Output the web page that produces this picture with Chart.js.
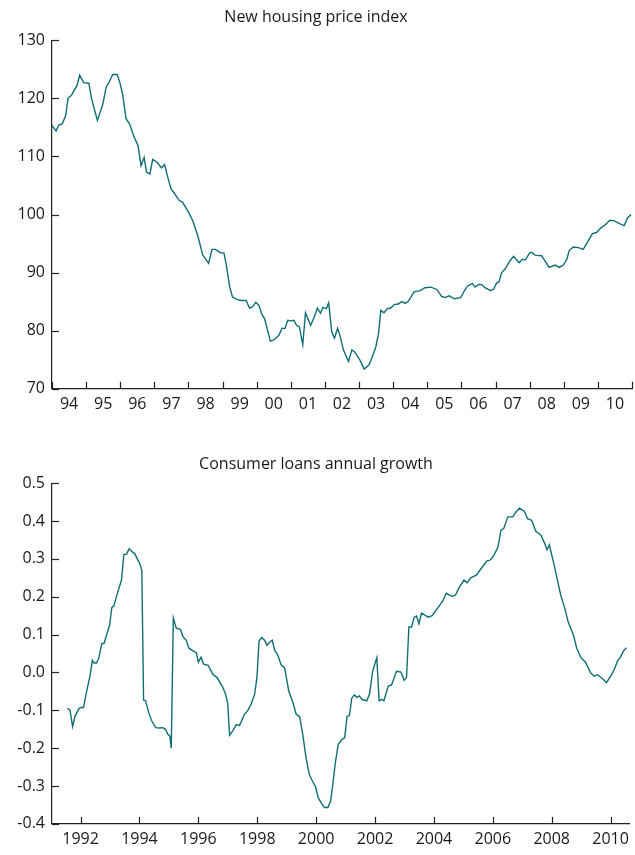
<!DOCTYPE html>
<html><head><meta charset="utf-8">
<script src="https://cdn.jsdelivr.net/npm/chart.js@4.4.0/dist/chart.umd.min.js"></script>
<style>body{margin:0;background:#fff}#a{position:absolute;left:0;top:0}#b{position:absolute;left:0;top:448px}</style>
</head><body>
<div id="a" style="width:635px;height:420px"><canvas id="c1"></canvas></div>
<div id="b" style="width:635px;height:407px"><canvas id="c2"></canvas></div>
<script>
const housingX=[1994.0,1994.12,1994.2,1994.3,1994.4,1994.47,1994.57,1994.74,1994.81,1994.93,1995.08,1995.16,1995.33,1995.49,1995.59,1995.66,1995.78,1995.91,1995.99,1996.07,1996.17,1996.27,1996.41,1996.52,1996.61,1996.7,1996.77,1996.87,1996.95,1997.08,1997.21,1997.3,1997.38,1997.49,1997.58,1997.73,1997.83,1998.0,1998.12,1998.27,1998.42,1998.59,1998.69,1998.79,1998.94,1999.04,1999.11,1999.21,1999.29,1999.42,1999.53,1999.69,1999.79,1999.88,1999.97,2000.06,2000.16,2000.23,2000.4,2000.5,2000.65,2000.74,2000.83,2000.91,2000.99,2001.09,2001.17,2001.25,2001.35,2001.43,2001.58,2001.69,2001.78,2001.87,2001.94,2002.04,2002.11,2002.2,2002.28,2002.37,2002.44,2002.54,2002.69,2002.79,2002.88,2003.03,2003.15,2003.29,2003.37,2003.49,2003.57,2003.64,2003.73,2003.83,2003.93,2004.03,2004.15,2004.25,2004.35,2004.45,2004.61,2004.79,2004.93,2005.11,2005.28,2005.42,2005.52,2005.64,2005.79,2005.98,2006.1,2006.18,2006.32,2006.4,2006.52,2006.6,2006.69,2006.86,2006.95,2007.03,2007.1,2007.18,2007.28,2007.42,2007.53,2007.69,2007.79,2007.88,2008.0,2008.05,2008.16,2008.35,2008.43,2008.57,2008.75,2008.87,2008.99,2009.09,2009.16,2009.28,2009.43,2009.57,2009.67,2009.84,2009.96,2010.09,2010.21,2010.35,2010.48,2010.65,2010.77,2010.87,2010.97];
const housingY=[115.3,114.4,115.4,115.6,117,120,120.5,122.3,124,122.7,122.6,119.9,116.2,119,122,122.6,124.1,124.1,122.7,120.7,116.5,115.6,113.3,111.9,108.4,109.8,107.3,107,109.5,109,108,108.6,106.7,104.4,103.7,102.4,102.1,100.4,99,96.4,93,91.6,94,94,93.4,93.4,91.3,87.5,85.8,85.4,85.2,85.2,83.9,84.1,84.9,84.4,82.7,82.1,78.2,78.4,79.2,80.4,80.4,81.8,81.7,81.8,80.9,80.7,77.6,83.1,80.9,82.4,83.9,83,84,83.8,84.8,79.8,78.7,80.4,79.2,76.7,74.7,76.7,76.3,74.9,73.4,74.1,75.2,77.2,79.5,83.5,83.1,83.8,83.9,84.5,84.6,85,84.7,85.1,86.7,86.9,87.4,87.5,87.1,85.9,85.7,86,85.5,85.7,87,87.7,88.1,87.5,88,87.9,87.4,86.9,87.2,88.2,88.4,90,90.6,92,92.8,91.7,92.3,92.2,93.4,93.5,93,92.9,92.2,90.9,91.3,90.9,91.3,92.3,93.8,94.4,94.3,94,95,96.7,96.9,97.7,98.2,99,98.9,98.4,98.1,99.4,100];
const loansX=[1991.55,1991.64,1991.73,1991.81,1991.95,1992.05,1992.1,1992.2,1992.32,1992.4,1992.46,1992.54,1992.62,1992.72,1992.8,1992.88,1992.99,1993.06,1993.13,1993.25,1993.39,1993.47,1993.56,1993.65,1993.73,1993.84,1993.95,1994.01,1994.08,1994.14,1994.21,1994.31,1994.41,1994.55,1994.69,1994.8,1994.89,1994.96,1995.03,1995.08,1995.15,1995.25,1995.39,1995.48,1995.59,1995.68,1995.82,1995.93,1996.0,1996.09,1996.18,1996.33,1996.5,1996.63,1996.81,1996.93,1997.0,1997.06,1997.18,1997.29,1997.4,1997.57,1997.68,1997.8,1997.91,1997.99,1998.06,1998.15,1998.25,1998.33,1998.44,1998.51,1998.59,1998.7,1998.81,1998.93,1999.07,1999.21,1999.32,1999.44,1999.55,1999.66,1999.77,1999.86,1999.98,2000.07,2000.17,2000.28,2000.4,2000.49,2000.56,2000.65,2000.75,2000.87,2000.97,2001.05,2001.13,2001.21,2001.3,2001.38,2001.47,2001.55,2001.72,2001.81,2001.92,2002.06,2002.14,2002.23,2002.3,2002.45,2002.56,2002.73,2002.88,2002.99,2003.07,2003.15,2003.24,2003.33,2003.41,2003.49,2003.58,2003.8,2003.94,2004.2,2004.31,2004.42,2004.61,2004.73,2004.84,2005.02,2005.13,2005.25,2005.44,2005.58,2005.8,2005.89,2006.0,2006.17,2006.28,2006.37,2006.51,2006.68,2006.79,2006.9,2007.07,2007.18,2007.32,2007.46,2007.63,2007.75,2007.84,2007.92,2008.09,2008.31,2008.45,2008.56,2008.74,2008.85,2008.99,2009.15,2009.32,2009.44,2009.55,2009.72,2009.86,2010.0,2010.11,2010.23,2010.34,2010.45,2010.54];
const loansY=[-0.095,-0.099,-0.143,-0.116,-0.095,-0.092,-0.093,-0.052,-0.01,0.032,0.025,0.025,0.038,0.076,0.077,0.098,0.126,0.171,0.176,0.209,0.244,0.312,0.312,0.327,0.32,0.314,0.296,0.288,0.27,-0.073,-0.075,-0.105,-0.127,-0.146,-0.147,-0.146,-0.151,-0.163,-0.168,-0.2,0.144,0.117,0.114,0.094,0.085,0.064,0.057,0.052,0.027,0.04,0.022,0.019,-0.006,-0.013,-0.036,-0.058,-0.084,-0.166,-0.153,-0.138,-0.14,-0.11,-0.101,-0.082,-0.058,-0.014,0.083,0.092,0.085,0.072,0.081,0.085,0.059,0.046,0.02,0.012,-0.049,-0.079,-0.11,-0.117,-0.166,-0.227,-0.27,-0.285,-0.302,-0.331,-0.344,-0.357,-0.357,-0.34,-0.3,-0.24,-0.19,-0.178,-0.172,-0.116,-0.114,-0.068,-0.059,-0.066,-0.062,-0.071,-0.075,-0.058,0.003,0.039,-0.075,-0.071,-0.075,-0.036,-0.033,0.003,0.001,-0.021,-0.013,0.12,0.12,0.146,0.149,0.129,0.157,0.146,0.15,0.178,0.19,0.209,0.201,0.204,0.222,0.244,0.237,0.25,0.257,0.272,0.295,0.296,0.305,0.33,0.376,0.38,0.411,0.411,0.424,0.434,0.426,0.406,0.402,0.373,0.363,0.343,0.324,0.337,0.281,0.203,0.168,0.133,0.098,0.064,0.039,0.027,-0.001,-0.01,-0.006,-0.016,-0.027,-0.01,0.005,0.029,0.042,0.058,0.065];
const titles=["New housing price index","Consumer loans annual growth"];

const FONT='"Open Sans", "DejaVu Sans", sans-serif';
const TXT='#1a1a1a', LINE='#0f6e74';
Chart.defaults.font.family=FONT;Chart.defaults.color=TXT;

const inTicks={id:'inTicks',afterDraw(ch,args,o){
  const c=ch.ctx,a=ch.chartArea;c.save();c.strokeStyle='#222';c.lineWidth=1.2;
  const xs=ch.scales.x,ys=ch.scales.y;
  o.xt.forEach(v=>{const p=Math.round(xs.getPixelForValue(v))+0.5;c.beginPath();c.moveTo(p,a.bottom);c.lineTo(p,a.bottom-7);c.stroke();});
  ys.ticks.forEach(t=>{const p=Math.round(ys.getPixelForValue(t.value))+0.5;c.beginPath();c.moveTo(a.left,p);c.lineTo(a.left+7,p);c.stroke();});
  c.restore();}};

function make(id,xv,yv,title,xmin,xmax,ymin,ymax,ystep,xtStep,xtStart,labFn,labStep,labStart,yfmt,tpad){
  const pts=xv.map((x,i)=>({x,y:yv[i]}));
  const xt=[];for(let v=xtStart;v<=xmax+1e-9;v+=xtStep)xt.push(v);
  new Chart(document.getElementById(id),{type:'line',
    data:{datasets:[{data:pts,borderColor:LINE,borderWidth:1.4,pointRadius:0,tension:0}]},
    options:{responsive:true,maintainAspectRatio:false,animation:false,
      layout:{padding:{left:0,right:3,top:0,bottom:0}},
      plugins:{legend:{display:false},tooltip:{enabled:false},inTicks:{xt},
        title:{display:true,text:title,color:TXT,font:{size:16,weight:'normal',family:FONT},padding:tpad}},
      scales:{
        x:{type:'linear',min:xmin,max:xmax,grid:{display:false,drawTicks:false},border:{color:'#222',width:1.2},
          afterBuildTicks:s=>{const t=[];for(let v=labStart;v<=xmax;v+=labStep)t.push({value:v});s.ticks=t;},
          ticks:{autoSkip:false,maxRotation:0,padding:6,font:{size:16},color:TXT,callback:labFn}},
        y:{min:ymin,max:ymax,grid:{display:false,drawTicks:false},border:{color:'#222',width:1.2},
          afterFit:s=>{s.width=52;},
          ticks:{stepSize:ystep,padding:7,font:{size:16},color:TXT,callback:yfmt}}}},
    plugins:[inTicks]});
}
make('c1',housingX,housingY,titles[0],1994,2011,70,130,10,1,1994,
  v=>String(Math.floor(v)%100).padStart(2,'0'),1,1994.5,v=>String(v),{top:8,bottom:13});
make('c2',loansX,loansY,titles[1],1991.03,2010.63,-0.4,0.5,0.1,2,1992,
  v=>String(Math.round(v)),2,1992,v=>(Math.round(v*10)/10).toFixed(1),{top:7,bottom:9});
</script></body></html>
